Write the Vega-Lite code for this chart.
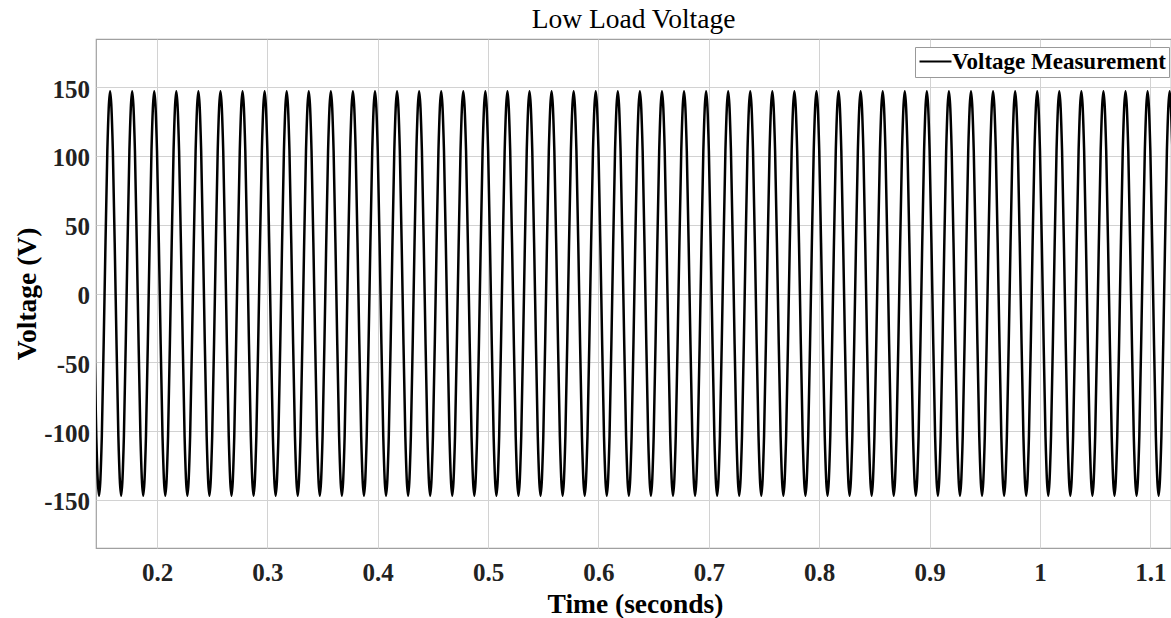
{
"$schema": "https://vega.github.io/schema/vega-lite/v6.json",
"width": 1075,
"height": 509,
"autosize": {"type": "none"},
"padding": {"left": 96, "top": 39, "right": 0, "bottom": 70},
"background": "white",
"config": {
  "font": "Liberation Serif",
  "view": {"stroke": "#a0a0a0", "strokeWidth": 1.2}
},
"title": {"text": "Low Load Voltage", "font": "Liberation Serif", "fontSize": 27.5, "fontWeight": "normal", "color": "#000000", "baseline": "alphabetic", "offset": 11, "dy": 27, "anchor": "middle"},
"data": {"values": [
{"t":0.14,"v":103.9},{"t":0.1425,"v":0},{"t":0.145,"v":-103.9},{"t":0.1475,"v":-147},{"t":0.15,"v":-103.9},{"t":0.1525,"v":0},{"t":0.155,"v":103.9},{"t":0.1575,"v":147},
{"t":0.16,"v":103.9},{"t":0.1625,"v":0},{"t":0.165,"v":-103.9},{"t":0.1675,"v":-147},{"t":0.17,"v":-103.9},{"t":0.1725,"v":0},{"t":0.175,"v":103.9},{"t":0.1775,"v":147},
{"t":0.18,"v":103.9},{"t":0.1825,"v":0},{"t":0.185,"v":-103.9},{"t":0.1875,"v":-147},{"t":0.19,"v":-103.9},{"t":0.1925,"v":0},{"t":0.195,"v":103.9},{"t":0.1975,"v":147},
{"t":0.2,"v":103.9},{"t":0.2025,"v":0},{"t":0.205,"v":-103.9},{"t":0.2075,"v":-147},{"t":0.21,"v":-103.9},{"t":0.2125,"v":0},{"t":0.215,"v":103.9},{"t":0.2175,"v":147},
{"t":0.22,"v":103.9},{"t":0.2225,"v":0},{"t":0.225,"v":-103.9},{"t":0.2275,"v":-147},{"t":0.23,"v":-103.9},{"t":0.2325,"v":0},{"t":0.235,"v":103.9},{"t":0.2375,"v":147},
{"t":0.24,"v":103.9},{"t":0.2425,"v":0},{"t":0.245,"v":-103.9},{"t":0.2475,"v":-147},{"t":0.25,"v":-103.9},{"t":0.2525,"v":0},{"t":0.255,"v":103.9},{"t":0.2575,"v":147},
{"t":0.26,"v":103.9},{"t":0.2625,"v":0},{"t":0.265,"v":-103.9},{"t":0.2675,"v":-147},{"t":0.27,"v":-103.9},{"t":0.2725,"v":0},{"t":0.275,"v":103.9},{"t":0.2775,"v":147},
{"t":0.28,"v":103.9},{"t":0.2825,"v":0},{"t":0.285,"v":-103.9},{"t":0.2875,"v":-147},{"t":0.29,"v":-103.9},{"t":0.2925,"v":0},{"t":0.295,"v":103.9},{"t":0.2975,"v":147},
{"t":0.3,"v":103.9},{"t":0.3025,"v":0},{"t":0.305,"v":-103.9},{"t":0.3075,"v":-147},{"t":0.31,"v":-103.9},{"t":0.3125,"v":0},{"t":0.315,"v":103.9},{"t":0.3175,"v":147},
{"t":0.32,"v":103.9},{"t":0.3225,"v":0},{"t":0.325,"v":-103.9},{"t":0.3275,"v":-147},{"t":0.33,"v":-103.9},{"t":0.3325,"v":0},{"t":0.335,"v":103.9},{"t":0.3375,"v":147},
{"t":0.34,"v":103.9},{"t":0.3425,"v":0},{"t":0.345,"v":-103.9},{"t":0.3475,"v":-147},{"t":0.35,"v":-103.9},{"t":0.3525,"v":0},{"t":0.355,"v":103.9},{"t":0.3575,"v":147},
{"t":0.36,"v":103.9},{"t":0.3625,"v":0},{"t":0.365,"v":-103.9},{"t":0.3675,"v":-147},{"t":0.37,"v":-103.9},{"t":0.3725,"v":0},{"t":0.375,"v":103.9},{"t":0.3775,"v":147},
{"t":0.38,"v":103.9},{"t":0.3825,"v":0},{"t":0.385,"v":-103.9},{"t":0.3875,"v":-147},{"t":0.39,"v":-103.9},{"t":0.3925,"v":0},{"t":0.395,"v":103.9},{"t":0.3975,"v":147},
{"t":0.4,"v":103.9},{"t":0.4025,"v":0},{"t":0.405,"v":-103.9},{"t":0.4075,"v":-147},{"t":0.41,"v":-103.9},{"t":0.4125,"v":0},{"t":0.415,"v":103.9},{"t":0.4175,"v":147},
{"t":0.42,"v":103.9},{"t":0.4225,"v":0},{"t":0.425,"v":-103.9},{"t":0.4275,"v":-147},{"t":0.43,"v":-103.9},{"t":0.4325,"v":0},{"t":0.435,"v":103.9},{"t":0.4375,"v":147},
{"t":0.44,"v":103.9},{"t":0.4425,"v":0},{"t":0.445,"v":-103.9},{"t":0.4475,"v":-147},{"t":0.45,"v":-103.9},{"t":0.4525,"v":0},{"t":0.455,"v":103.9},{"t":0.4575,"v":147},
{"t":0.46,"v":103.9},{"t":0.4625,"v":0},{"t":0.465,"v":-103.9},{"t":0.4675,"v":-147},{"t":0.47,"v":-103.9},{"t":0.4725,"v":0},{"t":0.475,"v":103.9},{"t":0.4775,"v":147},
{"t":0.48,"v":103.9},{"t":0.4825,"v":0},{"t":0.485,"v":-103.9},{"t":0.4875,"v":-147},{"t":0.49,"v":-103.9},{"t":0.4925,"v":0},{"t":0.495,"v":103.9},{"t":0.4975,"v":147},
{"t":0.5,"v":103.9},{"t":0.5025,"v":0},{"t":0.505,"v":-103.9},{"t":0.5075,"v":-147},{"t":0.51,"v":-103.9},{"t":0.5125,"v":0},{"t":0.515,"v":103.9},{"t":0.5175,"v":147},
{"t":0.52,"v":103.9},{"t":0.5225,"v":0},{"t":0.525,"v":-103.9},{"t":0.5275,"v":-147},{"t":0.53,"v":-103.9},{"t":0.5325,"v":0},{"t":0.535,"v":103.9},{"t":0.5375,"v":147},
{"t":0.54,"v":103.9},{"t":0.5425,"v":0},{"t":0.545,"v":-103.9},{"t":0.5475,"v":-147},{"t":0.55,"v":-103.9},{"t":0.5525,"v":0},{"t":0.555,"v":103.9},{"t":0.5575,"v":147},
{"t":0.56,"v":103.9},{"t":0.5625,"v":0},{"t":0.565,"v":-103.9},{"t":0.5675,"v":-147},{"t":0.57,"v":-103.9},{"t":0.5725,"v":0},{"t":0.575,"v":103.9},{"t":0.5775,"v":147},
{"t":0.58,"v":103.9},{"t":0.5825,"v":0},{"t":0.585,"v":-103.9},{"t":0.5875,"v":-147},{"t":0.59,"v":-103.9},{"t":0.5925,"v":0},{"t":0.595,"v":103.9},{"t":0.5975,"v":147},
{"t":0.6,"v":103.9},{"t":0.6025,"v":0},{"t":0.605,"v":-103.9},{"t":0.6075,"v":-147},{"t":0.61,"v":-103.9},{"t":0.6125,"v":0},{"t":0.615,"v":103.9},{"t":0.6175,"v":147},
{"t":0.62,"v":103.9},{"t":0.6225,"v":0},{"t":0.625,"v":-103.9},{"t":0.6275,"v":-147},{"t":0.63,"v":-103.9},{"t":0.6325,"v":0},{"t":0.635,"v":103.9},{"t":0.6375,"v":147},
{"t":0.64,"v":103.9},{"t":0.6425,"v":0},{"t":0.645,"v":-103.9},{"t":0.6475,"v":-147},{"t":0.65,"v":-103.9},{"t":0.6525,"v":0},{"t":0.655,"v":103.9},{"t":0.6575,"v":147},
{"t":0.66,"v":103.9},{"t":0.6625,"v":0},{"t":0.665,"v":-103.9},{"t":0.6675,"v":-147},{"t":0.67,"v":-103.9},{"t":0.6725,"v":0},{"t":0.675,"v":103.9},{"t":0.6775,"v":147},
{"t":0.68,"v":103.9},{"t":0.6825,"v":0},{"t":0.685,"v":-103.9},{"t":0.6875,"v":-147},{"t":0.69,"v":-103.9},{"t":0.6925,"v":0},{"t":0.695,"v":103.9},{"t":0.6975,"v":147},
{"t":0.7,"v":103.9},{"t":0.7025,"v":0},{"t":0.705,"v":-103.9},{"t":0.7075,"v":-147},{"t":0.71,"v":-103.9},{"t":0.7125,"v":0},{"t":0.715,"v":103.9},{"t":0.7175,"v":147},
{"t":0.72,"v":103.9},{"t":0.7225,"v":0},{"t":0.725,"v":-103.9},{"t":0.7275,"v":-147},{"t":0.73,"v":-103.9},{"t":0.7325,"v":0},{"t":0.735,"v":103.9},{"t":0.7375,"v":147},
{"t":0.74,"v":103.9},{"t":0.7425,"v":0},{"t":0.745,"v":-103.9},{"t":0.7475,"v":-147},{"t":0.75,"v":-103.9},{"t":0.7525,"v":0},{"t":0.755,"v":103.9},{"t":0.7575,"v":147},
{"t":0.76,"v":103.9},{"t":0.7625,"v":0},{"t":0.765,"v":-103.9},{"t":0.7675,"v":-147},{"t":0.77,"v":-103.9},{"t":0.7725,"v":0},{"t":0.775,"v":103.9},{"t":0.7775,"v":147},
{"t":0.78,"v":103.9},{"t":0.7825,"v":0},{"t":0.785,"v":-103.9},{"t":0.7875,"v":-147},{"t":0.79,"v":-103.9},{"t":0.7925,"v":0},{"t":0.795,"v":103.9},{"t":0.7975,"v":147},
{"t":0.8,"v":103.9},{"t":0.8025,"v":0},{"t":0.805,"v":-103.9},{"t":0.8075,"v":-147},{"t":0.81,"v":-103.9},{"t":0.8125,"v":0},{"t":0.815,"v":103.9},{"t":0.8175,"v":147},
{"t":0.82,"v":103.9},{"t":0.8225,"v":0},{"t":0.825,"v":-103.9},{"t":0.8275,"v":-147},{"t":0.83,"v":-103.9},{"t":0.8325,"v":0},{"t":0.835,"v":103.9},{"t":0.8375,"v":147},
{"t":0.84,"v":103.9},{"t":0.8425,"v":0},{"t":0.845,"v":-103.9},{"t":0.8475,"v":-147},{"t":0.85,"v":-103.9},{"t":0.8525,"v":0},{"t":0.855,"v":103.9},{"t":0.8575,"v":147},
{"t":0.86,"v":103.9},{"t":0.8625,"v":0},{"t":0.865,"v":-103.9},{"t":0.8675,"v":-147},{"t":0.87,"v":-103.9},{"t":0.8725,"v":0},{"t":0.875,"v":103.9},{"t":0.8775,"v":147},
{"t":0.88,"v":103.9},{"t":0.8825,"v":0},{"t":0.885,"v":-103.9},{"t":0.8875,"v":-147},{"t":0.89,"v":-103.9},{"t":0.8925,"v":0},{"t":0.895,"v":103.9},{"t":0.8975,"v":147},
{"t":0.9,"v":103.9},{"t":0.9025,"v":0},{"t":0.905,"v":-103.9},{"t":0.9075,"v":-147},{"t":0.91,"v":-103.9},{"t":0.9125,"v":0},{"t":0.915,"v":103.9},{"t":0.9175,"v":147},
{"t":0.92,"v":103.9},{"t":0.9225,"v":0},{"t":0.925,"v":-103.9},{"t":0.9275,"v":-147},{"t":0.93,"v":-103.9},{"t":0.9325,"v":0},{"t":0.935,"v":103.9},{"t":0.9375,"v":147},
{"t":0.94,"v":103.9},{"t":0.9425,"v":0},{"t":0.945,"v":-103.9},{"t":0.9475,"v":-147},{"t":0.95,"v":-103.9},{"t":0.9525,"v":0},{"t":0.955,"v":103.9},{"t":0.9575,"v":147},
{"t":0.96,"v":103.9},{"t":0.9625,"v":0},{"t":0.965,"v":-103.9},{"t":0.9675,"v":-147},{"t":0.97,"v":-103.9},{"t":0.9725,"v":0},{"t":0.975,"v":103.9},{"t":0.9775,"v":147},
{"t":0.98,"v":103.9},{"t":0.9825,"v":0},{"t":0.985,"v":-103.9},{"t":0.9875,"v":-147},{"t":0.99,"v":-103.9},{"t":0.9925,"v":0},{"t":0.995,"v":103.9},{"t":0.9975,"v":147},
{"t":1,"v":103.9},{"t":1.0025,"v":0},{"t":1.005,"v":-103.9},{"t":1.0075,"v":-147},{"t":1.01,"v":-103.9},{"t":1.0125,"v":0},{"t":1.015,"v":103.9},{"t":1.0175,"v":147},
{"t":1.02,"v":103.9},{"t":1.0225,"v":0},{"t":1.025,"v":-103.9},{"t":1.0275,"v":-147},{"t":1.03,"v":-103.9},{"t":1.0325,"v":0},{"t":1.035,"v":103.9},{"t":1.0375,"v":147},
{"t":1.04,"v":103.9},{"t":1.0425,"v":0},{"t":1.045,"v":-103.9},{"t":1.0475,"v":-147},{"t":1.05,"v":-103.9},{"t":1.0525,"v":0},{"t":1.055,"v":103.9},{"t":1.0575,"v":147},
{"t":1.06,"v":103.9},{"t":1.0625,"v":0},{"t":1.065,"v":-103.9},{"t":1.0675,"v":-147},{"t":1.07,"v":-103.9},{"t":1.0725,"v":0},{"t":1.075,"v":103.9},{"t":1.0775,"v":147},
{"t":1.08,"v":103.9},{"t":1.0825,"v":0},{"t":1.085,"v":-103.9},{"t":1.0875,"v":-147},{"t":1.09,"v":-103.9},{"t":1.0925,"v":0},{"t":1.095,"v":103.9},{"t":1.0975,"v":147},
{"t":1.1,"v":103.9},{"t":1.1025,"v":0},{"t":1.105,"v":-103.9},{"t":1.1075,"v":-147},{"t":1.11,"v":-103.9},{"t":1.1125,"v":0},{"t":1.115,"v":103.9},{"t":1.1175,"v":147},
{"t":1.12,"v":103.9}
]},
"mark": {"type": "line", "interpolate": "monotone", "clip": true, "strokeWidth": 2.5},
"encoding": {
  "x": {"field": "t", "type": "quantitative",
    "scale": {"domain": [0.14473, 1.11871], "nice": false, "zero": false},
    "axis": {"values": [0.2,0.3,0.4,0.5,0.6,0.7,0.8,0.9,1,1.1], "format": ".1~f",
      "grid": true, "gridColor": "#d2d2d2", "gridWidth": 1, "domain": false, "ticks": false,
      "labelFlush": false, "labelOverlap": false,
      "labelFont": "Liberation Serif", "labelFontSize": 25, "labelFontWeight": "bold", "labelColor": "#222222", "labelPadding": 12,
      "title": "Time (seconds)", "titleFont": "Liberation Serif", "titleFontSize": 27.5, "titleFontWeight": "bold", "titleColor": "#000000",
      "titleBaseline": "alphabetic", "titleX": 539, "titleY": 64}},
  "y": {"field": "v", "type": "quantitative",
    "scale": {"domain": [-185, 185], "nice": false, "zero": false},
    "axis": {"values": [-150,-100,-50,0,50,100,150], "labelExpr": "'' + datum.value",
      "grid": true, "gridColor": "#d2d2d2", "gridWidth": 1, "domain": false, "ticks": false,
      "labelFlush": false, "labelOverlap": false,
      "labelFont": "Liberation Serif", "labelFontSize": 25, "labelFontWeight": "bold", "labelColor": "#222222", "labelPadding": 6.5, "labelOffset": 2,
      "title": "Voltage (V)", "titleFont": "Liberation Serif", "titleFontSize": 27.5, "titleFontWeight": "bold", "titleColor": "#000000",
      "titleBaseline": "alphabetic", "titleAngle": 270, "titleAlign": "center", "titleX": -61, "titleY": 254.5}},
  "color": {"datum": "Voltage Measurement", "type": "nominal",
    "scale": {"range": ["#000000"]},
    "legend": {"title": null, "orient": "none", "legendX": 819, "legendY": 8,
      "symbolType": "M-1.56,0H1.56", "symbolSize": 420, "symbolOffset": 6, "symbolStrokeWidth": 2.2, "symbolStrokeColor": "#000000",
      "labelFont": "Liberation Serif", "labelFontSize": 23, "labelFontWeight": "bold", "labelColor": "#000000",
      "labelOffset": 5, "labelLimit": 400,
      "fillColor": "white", "strokeColor": "#999999", "padding": 3}}
}
}
